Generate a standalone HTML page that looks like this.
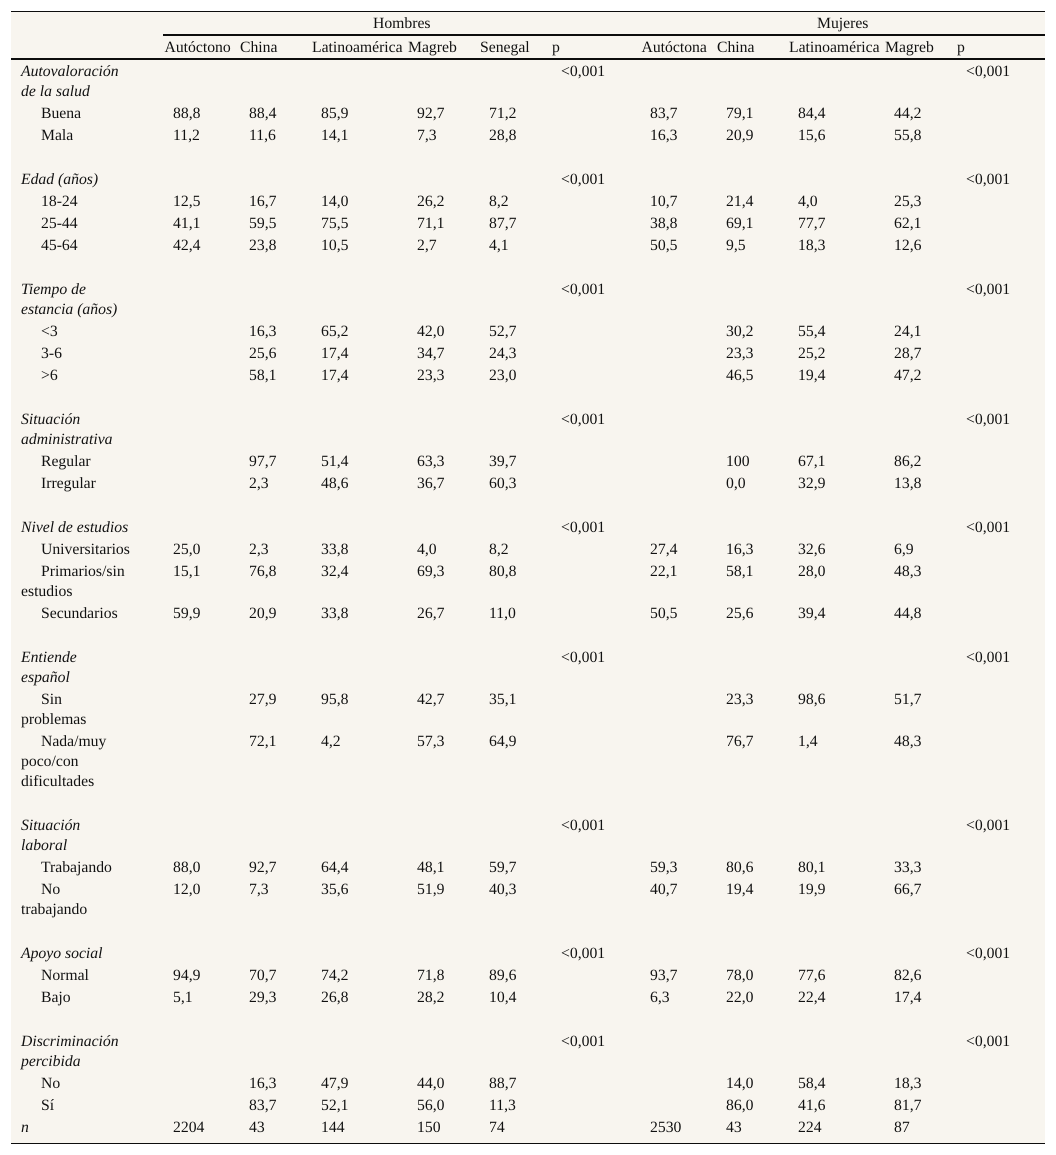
<!DOCTYPE html>
<html lang="es">
<head>
<meta charset="utf-8">
<title>Tabla</title>
<style>
html,body{margin:0;padding:0;background:#fff;width:1056px;height:1155px;overflow:hidden}
#t{position:absolute;left:11px;top:11px;width:1034px;height:1133px;background:#f8f5ef;font:15.7px/20px "Liberation Serif",serif;color:#111;text-rendering:geometricPrecision}
.line{position:absolute;background:#0d0d0d}
.r{position:absolute;left:0;width:1034px;height:20px}
.r span{position:absolute;top:1px;white-space:nowrap}
.l{left:10px}
.i{font-style:italic}
.s{text-indent:20px}
.a{left:162px}.b{left:238px}.c{left:310px}.d{left:406px}.e{left:478px}.p{left:550px}
.f{left:639px}.g{left:715px}.h{left:787px}.j{left:883px}.q{left:955px}
.ha{left:153.5px}.hb{left:229px}.hc{left:301px}.hd{left:397px}.he{left:469px}.hp{left:541px}
.hf{left:630.5px}.hg{left:706px}.hh{left:778px}.hj{left:874px}.hq{left:946px}
</style>
</head>
<body>
<div id="t">
<div class="line" style="left:0;top:0;width:1034px;height:1px"></div>
<div class="line" style="left:152px;top:23px;width:882px;height:2px"></div>
<div class="line" style="left:0;top:47px;width:1034px;height:2px"></div>
<div class="line" style="left:0;top:1131.5px;width:1034px;height:1px"></div>

<div class="r" style="top:2px"><span style="left:362px">Hombres</span><span style="left:806px">Mujeres</span></div>
<div class="r" style="top:26px"><span class="ha">Autóctono</span><span class="hb">China</span><span class="hc">Latinoamérica</span><span class="hd">Magreb</span><span class="he">Senegal</span><span class="hp">p</span><span class="hf">Autóctona</span><span class="hg">China</span><span class="hh">Latinoamérica</span><span class="hj">Magreb</span><span class="hq">p</span></div>

<div class="r" style="top:50px"><span class="l i">Autovaloración<br>de la salud</span><span class="p">&lt;0,001</span><span class="q">&lt;0,001</span></div>
<div class="r" style="top:92px"><span class="l s">Buena</span><span class="a">88,8</span><span class="b">88,4</span><span class="c">85,9</span><span class="d">92,7</span><span class="e">71,2</span><span class="f">83,7</span><span class="g">79,1</span><span class="h">84,4</span><span class="j">44,2</span></div>
<div class="r" style="top:114px"><span class="l s">Mala</span><span class="a">11,2</span><span class="b">11,6</span><span class="c">14,1</span><span class="d">7,3</span><span class="e">28,8</span><span class="f">16,3</span><span class="g">20,9</span><span class="h">15,6</span><span class="j">55,8</span></div>

<div class="r" style="top:158px"><span class="l i">Edad (años)</span><span class="p">&lt;0,001</span><span class="q">&lt;0,001</span></div>
<div class="r" style="top:180px"><span class="l s">18-24</span><span class="a">12,5</span><span class="b">16,7</span><span class="c">14,0</span><span class="d">26,2</span><span class="e">8,2</span><span class="f">10,7</span><span class="g">21,4</span><span class="h">4,0</span><span class="j">25,3</span></div>
<div class="r" style="top:202px"><span class="l s">25-44</span><span class="a">41,1</span><span class="b">59,5</span><span class="c">75,5</span><span class="d">71,1</span><span class="e">87,7</span><span class="f">38,8</span><span class="g">69,1</span><span class="h">77,7</span><span class="j">62,1</span></div>
<div class="r" style="top:224px"><span class="l s">45-64</span><span class="a">42,4</span><span class="b">23,8</span><span class="c">10,5</span><span class="d">2,7</span><span class="e">4,1</span><span class="f">50,5</span><span class="g">9,5</span><span class="h">18,3</span><span class="j">12,6</span></div>

<div class="r" style="top:268px"><span class="l i">Tiempo de<br>estancia (años)</span><span class="p">&lt;0,001</span><span class="q">&lt;0,001</span></div>
<div class="r" style="top:310px"><span class="l s">&lt;3</span><span class="b">16,3</span><span class="c">65,2</span><span class="d">42,0</span><span class="e">52,7</span><span class="g">30,2</span><span class="h">55,4</span><span class="j">24,1</span></div>
<div class="r" style="top:332px"><span class="l s">3-6</span><span class="b">25,6</span><span class="c">17,4</span><span class="d">34,7</span><span class="e">24,3</span><span class="g">23,3</span><span class="h">25,2</span><span class="j">28,7</span></div>
<div class="r" style="top:354px"><span class="l s">&gt;6</span><span class="b">58,1</span><span class="c">17,4</span><span class="d">23,3</span><span class="e">23,0</span><span class="g">46,5</span><span class="h">19,4</span><span class="j">47,2</span></div>

<div class="r" style="top:398px"><span class="l i">Situación<br>administrativa</span><span class="p">&lt;0,001</span><span class="q">&lt;0,001</span></div>
<div class="r" style="top:440px"><span class="l s">Regular</span><span class="b">97,7</span><span class="c">51,4</span><span class="d">63,3</span><span class="e">39,7</span><span class="g">100</span><span class="h">67,1</span><span class="j">86,2</span></div>
<div class="r" style="top:462px"><span class="l s">Irregular</span><span class="b">2,3</span><span class="c">48,6</span><span class="d">36,7</span><span class="e">60,3</span><span class="g">0,0</span><span class="h">32,9</span><span class="j">13,8</span></div>

<div class="r" style="top:506px"><span class="l i">Nivel de estudios</span><span class="p">&lt;0,001</span><span class="q">&lt;0,001</span></div>
<div class="r" style="top:528px"><span class="l s">Universitarios</span><span class="a">25,0</span><span class="b">2,3</span><span class="c">33,8</span><span class="d">4,0</span><span class="e">8,2</span><span class="f">27,4</span><span class="g">16,3</span><span class="h">32,6</span><span class="j">6,9</span></div>
<div class="r" style="top:550px"><span class="l s">Primarios/sin<br>estudios</span><span class="a">15,1</span><span class="b">76,8</span><span class="c">32,4</span><span class="d">69,3</span><span class="e">80,8</span><span class="f">22,1</span><span class="g">58,1</span><span class="h">28,0</span><span class="j">48,3</span></div>
<div class="r" style="top:592px"><span class="l s">Secundarios</span><span class="a">59,9</span><span class="b">20,9</span><span class="c">33,8</span><span class="d">26,7</span><span class="e">11,0</span><span class="f">50,5</span><span class="g">25,6</span><span class="h">39,4</span><span class="j">44,8</span></div>

<div class="r" style="top:636px"><span class="l i">Entiende<br>español</span><span class="p">&lt;0,001</span><span class="q">&lt;0,001</span></div>
<div class="r" style="top:678px"><span class="l s">Sin<br>problemas</span><span class="b">27,9</span><span class="c">95,8</span><span class="d">42,7</span><span class="e">35,1</span><span class="g">23,3</span><span class="h">98,6</span><span class="j">51,7</span></div>
<div class="r" style="top:720px"><span class="l s">Nada/muy<br>poco/con<br>dificultades</span><span class="b">72,1</span><span class="c">4,2</span><span class="d">57,3</span><span class="e">64,9</span><span class="g">76,7</span><span class="h">1,4</span><span class="j">48,3</span></div>

<div class="r" style="top:804px"><span class="l i">Situación<br>laboral</span><span class="p">&lt;0,001</span><span class="q">&lt;0,001</span></div>
<div class="r" style="top:846px"><span class="l s">Trabajando</span><span class="a">88,0</span><span class="b">92,7</span><span class="c">64,4</span><span class="d">48,1</span><span class="e">59,7</span><span class="f">59,3</span><span class="g">80,6</span><span class="h">80,1</span><span class="j">33,3</span></div>
<div class="r" style="top:868px"><span class="l s">No<br>trabajando</span><span class="a">12,0</span><span class="b">7,3</span><span class="c">35,6</span><span class="d">51,9</span><span class="e">40,3</span><span class="f">40,7</span><span class="g">19,4</span><span class="h">19,9</span><span class="j">66,7</span></div>

<div class="r" style="top:932px"><span class="l i">Apoyo social</span><span class="p">&lt;0,001</span><span class="q">&lt;0,001</span></div>
<div class="r" style="top:954px"><span class="l s">Normal</span><span class="a">94,9</span><span class="b">70,7</span><span class="c">74,2</span><span class="d">71,8</span><span class="e">89,6</span><span class="f">93,7</span><span class="g">78,0</span><span class="h">77,6</span><span class="j">82,6</span></div>
<div class="r" style="top:976px"><span class="l s">Bajo</span><span class="a">5,1</span><span class="b">29,3</span><span class="c">26,8</span><span class="d">28,2</span><span class="e">10,4</span><span class="f">6,3</span><span class="g">22,0</span><span class="h">22,4</span><span class="j">17,4</span></div>

<div class="r" style="top:1020px"><span class="l i">Discriminación<br>percibida</span><span class="p">&lt;0,001</span><span class="q">&lt;0,001</span></div>
<div class="r" style="top:1062px"><span class="l s">No</span><span class="b">16,3</span><span class="c">47,9</span><span class="d">44,0</span><span class="e">88,7</span><span class="g">14,0</span><span class="h">58,4</span><span class="j">18,3</span></div>
<div class="r" style="top:1084px"><span class="l s">Sí</span><span class="b">83,7</span><span class="c">52,1</span><span class="d">56,0</span><span class="e">11,3</span><span class="g">86,0</span><span class="h">41,6</span><span class="j">81,7</span></div>
<div class="r" style="top:1106px"><span class="l i">n</span><span class="a">2204</span><span class="b">43</span><span class="c">144</span><span class="d">150</span><span class="e">74</span><span class="f">2530</span><span class="g">43</span><span class="h">224</span><span class="j">87</span></div>
</div>
</body>
</html>
